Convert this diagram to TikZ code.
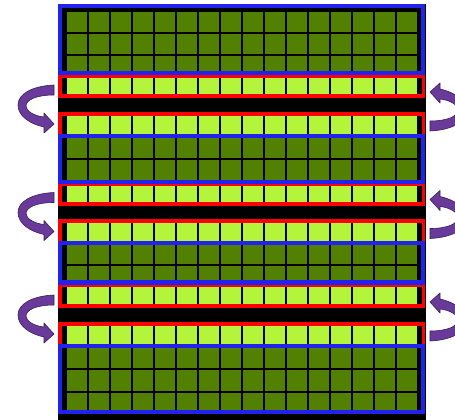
\documentclass[tikz,border=0pt]{standalone}
\definecolor{dkgreen}{HTML}{528000}
\definecolor{ltgreen}{HTML}{B4F53C}
\definecolor{frblue}{HTML}{2222EE}
\definecolor{frred}{HTML}{FF0000}
\definecolor{arrowfill}{HTML}{6A3A9A}
\definecolor{arrowline}{HTML}{3A1E5A}
\tikzset{
  bluebox/.style={draw=frblue, line width=4.2pt},
  redbox/.style={draw=frred, line width=3.6pt},
  arrowstyle/.style={fill=arrowfill, draw=arrowline, line width=0.6pt, line join=round}
}
\newcommand\drawcurvarrow{%
  \filldraw[arrowstyle] (0,-20) .. controls (-22,-19) and (-36,-11) .. (-36,0)
    .. controls (-36,11) and (-24,19) .. (-10,22) -- (-10,28) -- (0,19) -- (-10,8)
    -- (-10,12) .. controls (-20,11) and (-28,6) .. (-28,1)
    .. controls (-28,-5) and (-18,-10) .. (0,-10) -- cycle;}
\begin{document}
\begin{tikzpicture}[x=1pt,y=-1pt]
\useasboundingbox (0,0) rectangle (455,420);
\clip (0,0) rectangle (455,420);
\fill[white] (0,0) rectangle (455,420);
% black backing
\fill[black] (58,4) rectangle (426,420);
% cells
\foreach \t/\b/\c in {11/33/dkgreen, 33/55/dkgreen, 55/77/dkgreen, 77/97/ltgreen,
    113/135/ltgreen, 135/159/dkgreen, 159/182/dkgreen, 182/206/ltgreen,
    219/243/ltgreen, 243/265/dkgreen, 265/284/dkgreen, 284/306/ltgreen,
    322/346/ltgreen, 346/369/dkgreen, 369/392/dkgreen, 392/415/dkgreen}{
  \foreach \i in {0,...,15}{
    \fill[\c] ({66+22*\i+1},{\t+1}) rectangle ({66+22*\i+21},{\b-1});
  }
}
% red ghost-row frames
\foreach \t/\b in {76.5/96, 114/136, 184.5/204, 221/243, 285/306, 324/346}{
  \draw[redbox] (59.8,\t) rectangle (423.3,\b);
}
% blue block frames
\foreach \t/\b in {6/73, 136/182, 243/282.5, 346/412}{
  \draw[bluebox] (59.8,\t) rectangle (423.3,\b);
}
% exchange arrows
\foreach \g in {105,212.5,315}{
  \begin{scope}[shift={(54,\g)}]
    \drawcurvarrow
  \end{scope}
  \begin{scope}[shift={(430,\g+6)},xscale=-1,yscale=-1]
    \drawcurvarrow
  \end{scope}
}
\end{tikzpicture}
\end{document}
